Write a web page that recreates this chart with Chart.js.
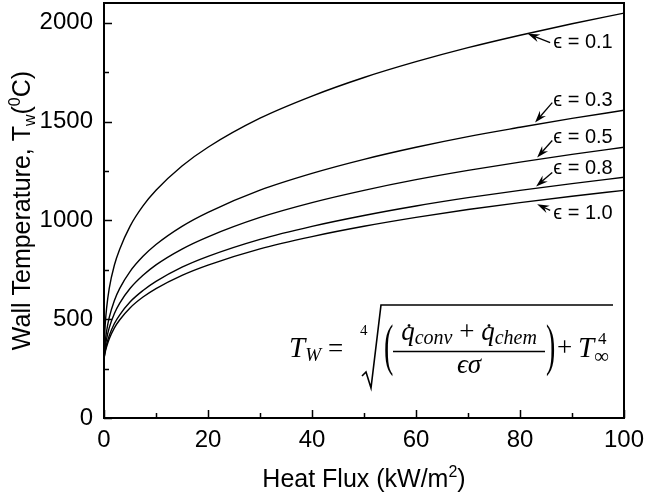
<!DOCTYPE html>
<html>
<head>
<meta charset="utf-8">
<script src="https://cdn.jsdelivr.net/npm/chart.js@4.4.1/dist/chart.umd.min.js"></script>
<style>
  html, body { margin: 0; padding: 0; background: #fff; }
</style>
</head>
<body>
<canvas id="wallChart" width="646" height="500"></canvas>
<script>
// heat flux (kW/m2) and wall temperature
const heatFlux = [0, 0.1, 0.25, 0.5, 1, 2, 3, 5, 7.5, 10, 15, 20, 30, 40, 50, 60, 70, 80, 90, 100];
const tempE01 = [300, 401, 478, 556, 655, 774, 853, 970, 1073, 1152, 1275, 1370, 1517, 1629, 1723, 1803, 1874, 1937, 1995, 2049];
const tempE03 = [300, 344, 389, 440, 508, 595, 655, 741, 818, 878, 970, 1041, 1153, 1238, 1309, 1370, 1424, 1471, 1516, 1557];
const tempE05 = [300, 328, 361, 400, 456, 529, 580, 655, 722, 775, 855, 917, 1015, 1090, 1152, 1206, 1253, 1295, 1334, 1370];
const tempE08 = [300, 319, 342, 372, 416, 478, 521, 587, 645, 691, 763, 818, 904, 970, 1025, 1073, 1115, 1152, 1186, 1218];
const tempE10 = [300, 315, 335, 360, 400, 456, 496, 557, 612, 655, 722, 774, 856, 918, 970, 1015, 1055, 1090, 1122, 1152];
const emissivities = ['0.1', '0.3', '0.5', '0.8', '1.0'];

const xTicks = [0, 20, 40, 60, 80, 100];
const xMinorTicks = [10, 30, 50, 70, 90];
const yTicks = [0, 500, 1000, 1500, 2000];
const yMinorTicks = [250, 750, 1250, 1750];

const sans = '"Liberation Sans", Arial, sans-serif';
const serif = '"Liberation Serif", "DejaVu Serif", serif';

// where the epsilon labels / arrows sit, in data units
const labelSpots = [
  { lx: 86.4, ly: 1900, tx: 85.8, ty: 1899, hx: 81.5, hy: 1944 },
  { lx: 86.4, ly: 1606, tx: 86.2, ty: 1596, hx: 82.9, hy: 1495 },
  { lx: 86.4, ly: 1419, tx: 86.2, ty: 1404, hx: 83.3, hy: 1318 },
  { lx: 86.4, ly: 1263, tx: 86.2, ty: 1242, hx: 83.1, hy: 1172 },
  { lx: 86.4, ly: 1035, tx: 85.8, ty: 1051, hx: 83.3, hy: 1081 }
];

const series = [tempE01, tempE03, tempE05, tempE08, tempE10];

function drawRuns(ctx, x, y, runs) {
  const marks = [];
  runs.forEach(r => {
    ctx.font = r.font;
    const w = ctx.measureText(r.t).width;
    ctx.fillText(r.t, x, y + (r.dy || 0));
    marks.push({ x: x, w: w, r: r });
    x += w;
  });
  return marks;
}
function runsWidth(ctx, runs) {
  let w = 0;
  runs.forEach(r => { ctx.font = r.font; w += ctx.measureText(r.t).width; });
  return w;
}

const framePlugin = {
  id: 'framePlugin',
  afterDraw(chart) {
    const ctx = chart.ctx;
    const a = chart.chartArea;
    const xs = chart.scales.x, ys = chart.scales.y;
    ctx.save();
    ctx.strokeStyle = '#000';
    ctx.lineWidth = 2;
    ctx.strokeRect(a.left, a.top, a.right - a.left, a.bottom - a.top);

    ctx.lineWidth = 1.5;
    ctx.beginPath();
    xTicks.concat(xMinorTicks).forEach(v => {
      const px = Math.round(xs.getPixelForValue(v)) + 0.5;
      const len = xTicks.includes(v) ? 8 : 5;
      ctx.moveTo(px, a.bottom);
      ctx.lineTo(px, a.bottom - len);
    });
    yTicks.concat(yMinorTicks).forEach(v => {
      const py = Math.round(ys.getPixelForValue(v)) + 0.5;
      const len = yTicks.includes(v) ? 8 : 5;
      ctx.moveTo(a.left, py);
      ctx.lineTo(a.left + len, py);
    });
    ctx.stroke();

    // axis titles with sub/superscripts
    ctx.fillStyle = '#000';
    ctx.textBaseline = 'alphabetic';
    ctx.textAlign = 'left';
    const big = '25px ' + sans, small = '16px ' + sans;
    const yTitle = [
      { t: 'Wall Temperature, T', font: big },
      { t: 'w', font: small, dy: 5 },
      { t: '(', font: big },
      { t: '0', font: small, dy: -10 },
      { t: 'C)', font: big }
    ];
    ctx.save();
    ctx.translate(22, (a.top + a.bottom) / 2);
    ctx.rotate(-Math.PI / 2);
    drawRuns(ctx, -runsWidth(ctx, yTitle) / 2, 8, yTitle);
    ctx.restore();

    const xTitle = [
      { t: 'Heat Flux (kW/m', font: big },
      { t: '2', font: small, dy: -10 },
      { t: ')', font: big }
    ];
    drawRuns(ctx, (a.left + a.right) / 2 - runsWidth(ctx, xTitle) / 2, 487, xTitle);

    // epsilon labels with arrows
    ctx.font = '20px ' + sans;
    ctx.textBaseline = 'middle';
    labelSpots.forEach((s, i) => {
      ctx.fillText('\u03F5 = ' + emissivities[i], xs.getPixelForValue(s.lx), ys.getPixelForValue(s.ly));
      const tx = xs.getPixelForValue(s.tx), ty = ys.getPixelForValue(s.ty);
      const hx = xs.getPixelForValue(s.hx), hy = ys.getPixelForValue(s.hy);
      const c = Math.cos(Math.atan2(hy - ty, hx - tx)), sn = Math.sin(Math.atan2(hy - ty, hx - tx));
      ctx.lineWidth = 1.3;
      ctx.beginPath();
      ctx.moveTo(tx, ty);
      ctx.lineTo(hx - 7 * c, hy - 7 * sn);
      ctx.stroke();
      ctx.beginPath();
      ctx.moveTo(hx, hy);
      ctx.lineTo(hx - 12 * c + 4 * sn, hy - 12 * sn - 4 * c);
      ctx.lineTo(hx - 8 * c, hy - 8 * sn);
      ctx.lineTo(hx - 12 * c - 4 * sn, hy - 12 * sn + 4 * c);
      ctx.closePath();
      ctx.fill();
    });

    // formula
    ctx.textBaseline = 'alphabetic';
    const it = s => 'italic ' + s + 'px ' + serif;
    const up = s => s + 'px ' + serif;
    drawRuns(ctx, 289, 357, [{ t: 'T', font: it(29) }, { t: 'W', font: it(19), dy: 4 }]);
    drawRuns(ctx, 328, 357, [{ t: '=', font: up(27) }]);
    drawRuns(ctx, 360, 335, [{ t: '4', font: up(15) }]);
    ctx.lineWidth = 1.6;
    ctx.beginPath();
    ctx.moveTo(362, 376);
    ctx.lineTo(366, 372);
    ctx.lineTo(371, 388);
    ctx.lineTo(381, 305);
    ctx.lineTo(613, 305);
    ctx.stroke();

    ctx.save();
    ctx.scale(1, 2);
    ctx.font = up(28);
    ctx.fillText('(', 384, 182);
    ctx.fillText(')', 546, 182);
    ctx.restore();

    const numer = [
      { t: 'q', font: it(27), dot: true },
      { t: 'conv', font: it(20), dy: 4 },
      { t: ' + ', font: up(27) },
      { t: 'q', font: it(27), dot: true },
      { t: 'chem', font: it(20), dy: 4 }
    ];
    const nw = runsWidth(ctx, numer);
    const marks = drawRuns(ctx, 469 - nw / 2, 340, numer);
    ctx.textAlign = 'center';
    ctx.font = up(27);
    marks.filter(m => m.r.dot).forEach(m => ctx.fillText('\u02D9', m.x + m.w / 2 + 1, 342));
    ctx.font = it(27);
    ctx.fillText('\u03F5\u03C3', 469, 373);
    ctx.textAlign = 'left';
    ctx.lineWidth = 1.3;
    ctx.beginPath();
    ctx.moveTo(393, 351.5);
    ctx.lineTo(545, 351.5);
    ctx.stroke();

    drawRuns(ctx, 557, 356, [{ t: '+', font: up(27) }]);
    drawRuns(ctx, 578, 357, [{ t: 'T', font: it(29) }]);
    drawRuns(ctx, 594, 363, [{ t: '\u221E', font: up(21) }]);
    drawRuns(ctx, 598, 344, [{ t: '4', font: up(17) }]);
    ctx.restore();
  }
};

new Chart(document.getElementById('wallChart').getContext('2d'), {
  type: 'line',
  data: {
    datasets: series.map((temps, i) => ({
      label: '\u03F5 = ' + emissivities[i],
      data: heatFlux.map((q, j) => ({ x: q, y: temps[j] })),
      borderColor: '#000',
      borderWidth: 1.4,
      pointRadius: 0,
      fill: false,
      cubicInterpolationMode: 'monotone'
    }))
  },
  options: {
    responsive: false,
    animation: false,
    layout: { padding: { top: 3, right: 22, left: 0, bottom: 0 } },
    plugins: { legend: { display: false }, tooltip: { enabled: false } },
    scales: {
      x: {
        type: 'linear', min: 0, max: 100,
        afterBuildTicks: s => { s.ticks = xTicks.map(v => ({ value: v })); },
        afterFit: s => { s.height = 82; s.paddingLeft = 0; s.paddingRight = 0; },
        grid: { display: false, drawTicks: false },
        border: { display: false },
        ticks: { color: '#000', font: { family: sans, size: 24 }, padding: 8, maxRotation: 0, autoSkip: false,
                 callback: v => String(v) }
      },
      y: {
        type: 'linear', min: 0, max: 2100,
        afterBuildTicks: s => { s.ticks = yTicks.map(v => ({ value: v })); },
        afterFit: s => { s.width = 104; s.paddingTop = 0; s.paddingBottom = 0; },
        grid: { display: false, drawTicks: false },
        border: { display: false },
        ticks: { color: '#000', font: { family: sans, size: 24 }, padding: 11, autoSkip: false,
                 callback: v => String(v) }
      }
    }
  },
  plugins: [framePlugin]
});
</script>
</body>
</html>
